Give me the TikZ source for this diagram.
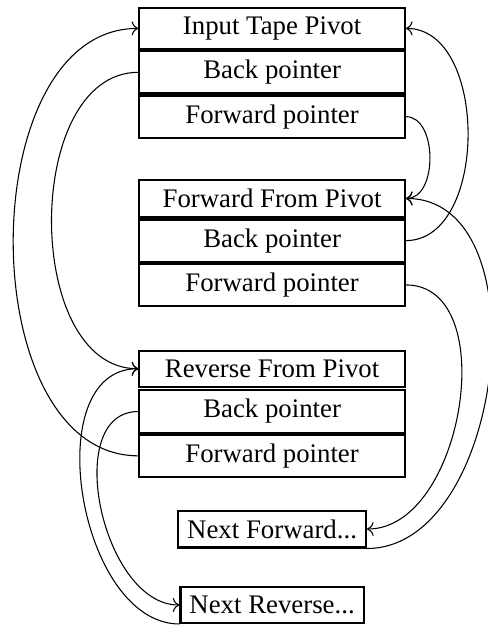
\documentclass[tikz,border=0pt]{standalone}
\usepackage{fontspec}
\setmainfont{Liberation Serif}
\usepackage{tikz}
\usetikzlibrary{positioning}
\usetikzlibrary{arrows.meta}

\begin{document}
\begin{tikzpicture}[cell/.style={draw,thick,minimum width=99pt},
  tail/.style={draw,thick},
  link/.style={->}]
\useasboundingbox (-101.5pt,10.6pt) rectangle (80.2pt,-222.9pt);
\node[cell] (pivot) {Input Tape Pivot};
\node[cell,below=0pt of pivot] (pivotback) {Back pointer};
\node[cell,below=0pt of pivotback] (pivotfwd) {Forward pointer};
\node[cell,below=15pt of pivotfwd] (fwd) {Forward From Pivot};
\node[cell,below=0.2pt of fwd] (fwdback) {Back pointer};
\node[cell,below=0pt of fwdback] (fwdfwd) {Forward pointer};
\node[cell,below=15.9pt of fwdfwd] (rev) {Reverse From Pivot};
\node[cell,below=0.6pt of rev] (revback) {Back pointer};
\node[cell,below=0pt of revback] (revfwd) {Forward pointer};
\node[tail,below=11.75pt of revfwd] (nextfwd) {Next Forward...};
\node[tail,below=14pt of nextfwd] (nextrev) {Next Reverse...};
\draw[link] (pivotback.west) to[out=180,in=180] (rev.west);
\draw[link] (revfwd.west) to[out=180,in=180] (pivot.west);
\draw[link] (pivotfwd.east) to[out=0,in=0] (fwd.east);
\draw[link] (fwdback.east) to[out=0,in=0] (pivot.east);
\draw[link] (fwdfwd.east) to[out=0,in=0] (nextfwd.east);
\draw[link] (nextfwd.south east) to[out=0,in=0] (fwd.east);
\draw[link] (revback.west) to[out=180,in=180] (nextrev.west);
\draw[link] (nextrev.south west) to[out=180,in=180] (rev.west);
\end{tikzpicture}
\end{document}
